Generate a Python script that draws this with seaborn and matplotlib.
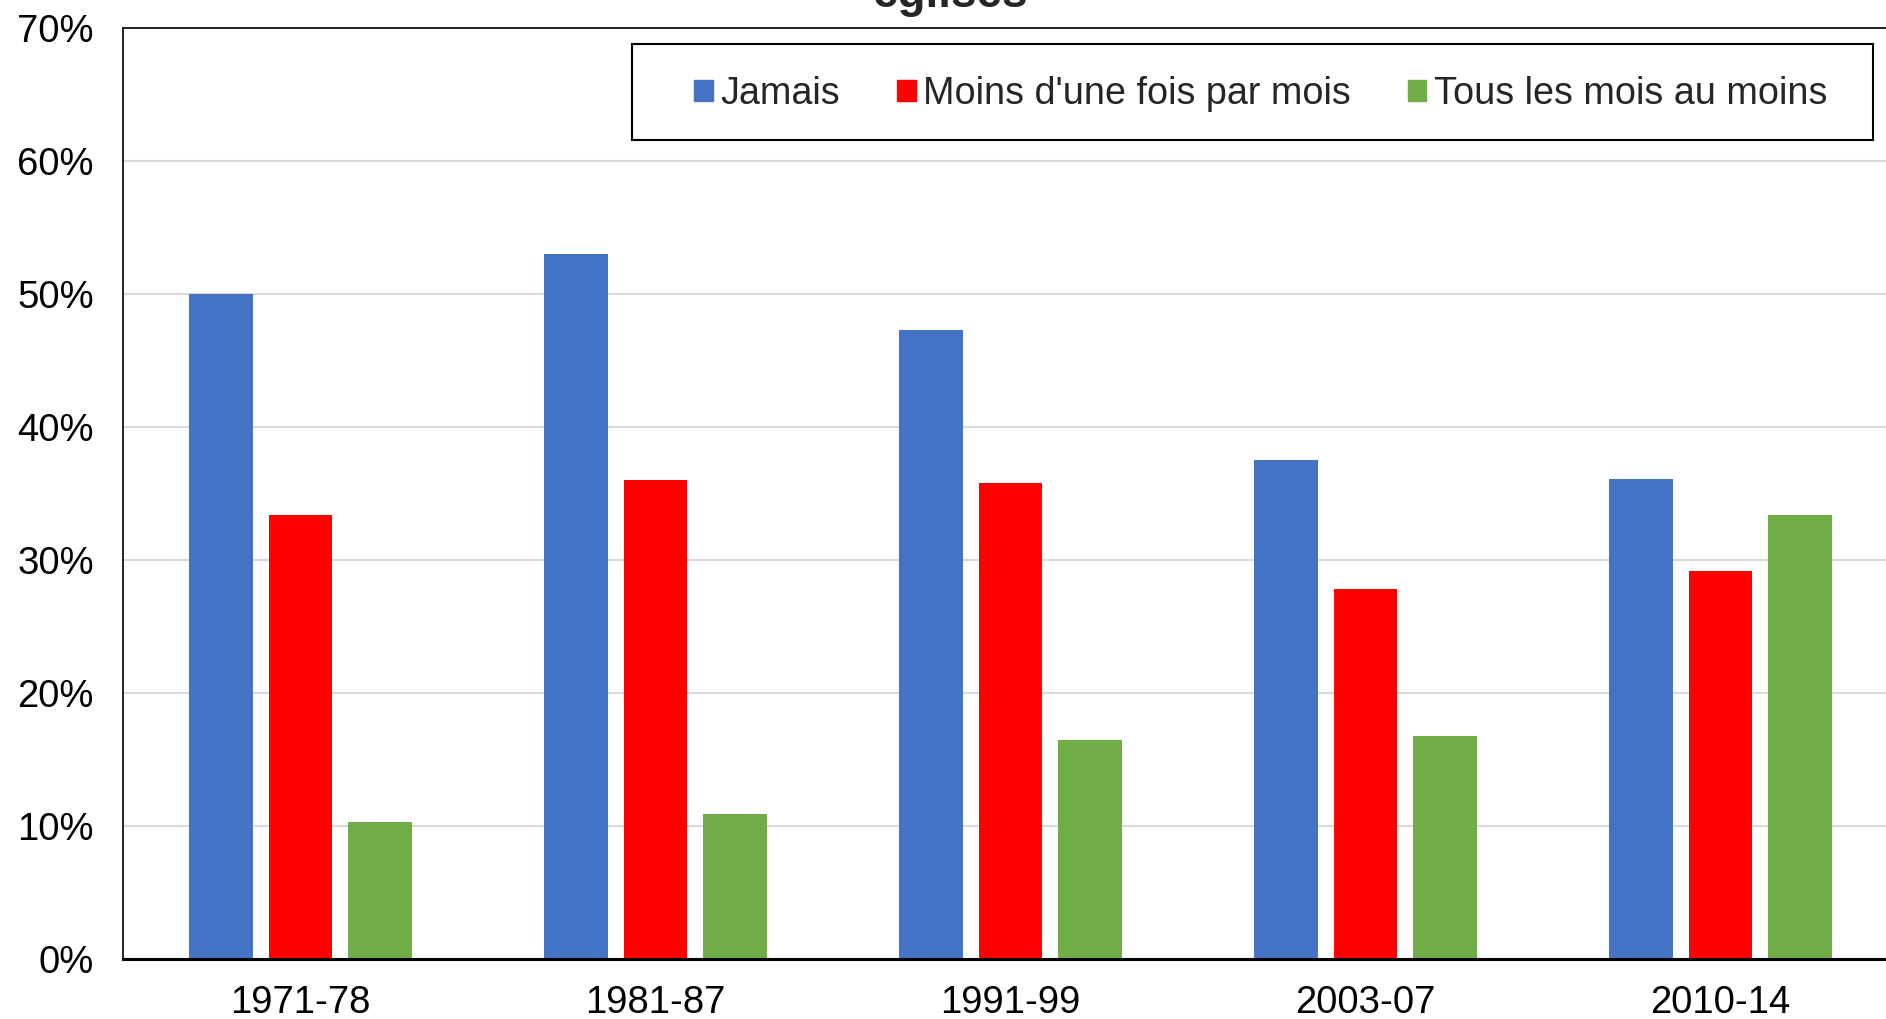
import matplotlib
matplotlib.use("Agg")
import matplotlib.pyplot as plt
import seaborn as sns
import pandas as pd
from matplotlib.ticker import FuncFormatter, MultipleLocator

periods = ["1971-78", "1981-87", "1991-99", "2003-07", "2010-14"]
series_names = ["Jamais", "Moins d'une fois par mois", "Tous les mois au moins"]
jamais = [50.0, 53.0, 47.3, 37.5, 36.1]
moins_une_fois = [33.4, 36.0, 35.8, 27.8, 29.2]
tous_les_mois = [10.3, 10.9, 16.5, 16.8, 33.4]
colors = ["#4472C4", "#FF0000", "#70AD47"]
title_text = "églises"

rows = []
for name, vals in zip(series_names, [jamais, moins_une_fois, tous_les_mois]):
    for p, v in zip(periods, vals):
        rows.append({"period": p, "serie": name, "value": v})
df = pd.DataFrame(rows)

sns.set_theme(style="white")
plt.rcParams["font.family"] = ["Liberation Sans", "DejaVu Sans"]

W, H = 1886, 1019
fig = plt.figure(figsize=(W / 100, H / 100), dpi=100)
ax = fig.add_axes([123 / W, 1 - 959 / H, 1775 / W, (959 - 28) / H])

sns.barplot(data=df, x="period", y="value", hue="serie", order=periods,
            hue_order=series_names, palette=colors, saturation=1,
            width=0.671, gap=0.195, linewidth=0, ax=ax, errorbar=None)

ax.set_xlim(-0.5, 4.5)
ax.set_ylim(0, 70)
ax.yaxis.set_major_locator(MultipleLocator(10))
ax.yaxis.set_major_formatter(FuncFormatter(lambda v, p: f"{v:.0f}%"))
ax.set_xlabel("")
ax.set_ylabel("")
ax.grid(axis="y", color="#d9d9d9", linewidth=1.5)
ax.grid(axis="x", visible=False)
ax.set_axisbelow(True)
ax.tick_params(axis="both", length=0, labelsize=27.5, colors="black")
ax.tick_params(axis="y", pad=21)
ax.tick_params(axis="x", pad=19)

for side in ["top", "left", "right"]:
    ax.spines[side].set_visible(True)
    ax.spines[side].set_color("black")
    ax.spines[side].set_linewidth(1.2)
ax.spines["bottom"].set_color("black")
ax.spines["bottom"].set_linewidth(2.2)

ax.get_legend().remove()

# legend frame
frame = plt.Rectangle((632 / W, 1 - 139.5 / H), (1873 - 632) / W, 95 / H,
                      transform=fig.transFigure, facecolor="white",
                      edgecolor="black", linewidth=1.5, zorder=5)
fig.add_artist(frame)

handles = [plt.Rectangle((0, 0), 1, 1, color=c) for c in colors]
leg = fig.legend(handles, series_names, loc="center left",
                 bbox_to_anchor=(694 / W, 1 - 94 / H),
                 ncol=3, fontsize=27.2, frameon=False,
                 handlelength=0.5, handleheight=0.5, handletextpad=0.2,
                 columnspacing=1.5, borderpad=0, borderaxespad=0)
leg.set_zorder(6)

fig.text(950 / W, 1 - 7 / H, title_text, ha="center", va="baseline",
         fontsize=33, fontweight="bold")

fig.savefig("out.png", dpi=100)
